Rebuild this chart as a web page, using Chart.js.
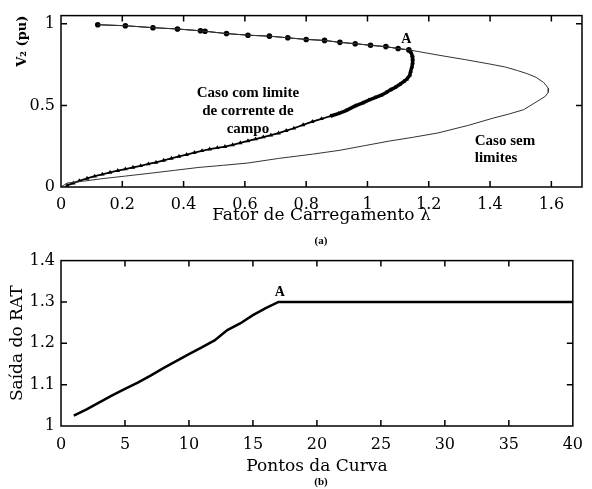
<!DOCTYPE html>
<html>
<head>
<meta charset="utf-8">
<script src="https://cdn.jsdelivr.net/npm/chart.js@4"></script>
<style>
  body { margin: 0; background: #fff; }
  #wrap { position: relative; width: 592px; height: 489px; }
  #graphA { position: absolute; left: 0; top: 0; }
  #graphB { position: absolute; left: 0; top: 245px; }
</style>
</head>
<body>
<div id="wrap">
  <canvas id="graphA" width="592" height="248"></canvas>
  <canvas id="graphB" width="592" height="244"></canvas>
</div>
<script>
// (a) curva PV - caso sem limites (ramo superior e inferior)
const semLimX = [0.12, 0.21, 0.30, 0.38, 0.46, 0.54, 0.61, 0.68, 0.74, 0.80, 0.86, 0.91, 0.96, 1.01, 1.06, 1.10, 1.135,
  1.24, 1.32, 1.40, 1.45, 1.49, 1.52, 1.55, 1.575, 1.59, 1.59, 1.58, 1.55, 1.51, 1.46, 1.41, 1.33, 1.23, 1.15, 1.07,
  0.99, 0.91, 0.82, 0.71, 0.61, 0.53, 0.45, 0.37, 0.29, 0.21, 0.13, 0.07, 0.02, 0.0];
const semLimY = [0.994, 0.988, 0.976, 0.968, 0.956, 0.94, 0.93, 0.924, 0.914, 0.904, 0.898, 0.886, 0.878, 0.868, 0.86, 0.848, 0.84,
  0.805, 0.78, 0.753, 0.735, 0.713, 0.695, 0.672, 0.64, 0.605, 0.58, 0.555, 0.52, 0.474, 0.446, 0.422, 0.378, 0.331, 0.305, 0.281,
  0.253, 0.225, 0.201, 0.175, 0.147, 0.133, 0.12, 0.102, 0.084, 0.067, 0.05, 0.035, 0.024, 0.0];

// caso com limite de corrente de campo: ramo superior (ate A)
const comSupX = [0.12, 0.21, 0.30, 0.38, 0.455, 0.47, 0.54, 0.61, 0.68, 0.74, 0.80, 0.86, 0.91, 0.96, 1.01, 1.06, 1.10, 1.135];
const comSupY = [0.994, 0.988, 0.976, 0.968, 0.957, 0.954, 0.94, 0.93, 0.924, 0.914, 0.904, 0.898, 0.886, 0.878, 0.868, 0.86, 0.848, 0.84];
// ramo inferior (depois de A)
const comInfX = [1.142, 1.146, 1.148, 1.147, 1.145, 1.141, 1.138, 1.128, 1.118, 1.105, 1.09, 1.075, 1.06, 1.045, 1.025, 1.005,
  0.985, 0.96, 0.93, 0.905, 0.88, 0.85, 0.82, 0.79, 0.76, 0.735, 0.71, 0.685, 0.66, 0.635, 0.61, 0.585, 0.56, 0.535, 0.51,
  0.485, 0.46, 0.435, 0.41, 0.385, 0.36, 0.335, 0.31, 0.285, 0.26, 0.235, 0.21, 0.185, 0.16, 0.135, 0.11, 0.085, 0.06, 0.04, 0.02];
const comInfY = [0.825, 0.805, 0.783, 0.76, 0.735, 0.71, 0.685, 0.66, 0.645, 0.628, 0.61, 0.595, 0.578, 0.562, 0.548, 0.533,
  0.515, 0.497, 0.468, 0.45, 0.435, 0.418, 0.4, 0.38, 0.36, 0.345, 0.33, 0.318, 0.306, 0.294, 0.282, 0.27, 0.258, 0.247, 0.24,
  0.232, 0.222, 0.21, 0.198, 0.187, 0.175, 0.163, 0.151, 0.141, 0.13, 0.12, 0.11, 0.1, 0.089, 0.078, 0.066, 0.053, 0.038, 0.024, 0.01];

const ticksXA = [0, 0.2, 0.4, 0.6, 0.8, 1, 1.2, 1.4, 1.6];
const ticksYA = [0, 0.5, 1];

// (b) saida do RAT x pontos da curva
const pontos = [1, 2, 3, 4, 5, 6, 7, 8, 9, 10, 11, 12, 13, 14, 15, 16, 17, 18, 19, 20,
  21, 22, 23, 24, 25, 26, 27, 28, 29, 30, 31, 32, 33, 34, 35, 36, 37, 38, 39, 40];
const saidaRAT = [1.025, 1.04, 1.057, 1.074, 1.09, 1.105, 1.122, 1.14, 1.157, 1.174, 1.19, 1.207, 1.232, 1.248, 1.268, 1.285, 1.30,
  1.30, 1.30, 1.30, 1.30, 1.30, 1.30, 1.30, 1.30, 1.30, 1.30, 1.30, 1.30, 1.30, 1.30, 1.30, 1.30, 1.30, 1.30, 1.30, 1.30, 1.30, 1.30, 1.30];
const ticksXB = [0, 5, 10, 15, 20, 25, 30, 35, 40];
const ticksYB = [1, 1.1, 1.2, 1.3, 1.4];

Chart.defaults.font.family = 'DejaVu Serif';
Chart.defaults.color = '#000';
Chart.defaults.animation = false;

function pts(xs, ys) {
    const out = [];
    for (let i = 0; i < xs.length; i++) {
        out.push({x: xs[i], y: ys[i]});
    }
    return out;
}

function fmt(v) {
    return String(+Number(v).toFixed(2));
}

// moldura com marcas de escala para dentro
const moldura = {
    id: 'moldura',
    afterDatasetsDraw(chart) {
        const ctx = chart.ctx;
        const a = chart.chartArea;
        const sx = chart.scales.x, sy = chart.scales.y;
        ctx.save();
        ctx.strokeStyle = '#000';
        ctx.lineWidth = 1.5;
        ctx.strokeRect(a.left, a.top, a.right - a.left, a.bottom - a.top);
        ctx.beginPath();
        sx.ticks.forEach(t => {
            const p = sx.getPixelForValue(t.value);
            if (p <= a.left + 1 || p >= a.right - 1) return;
            ctx.moveTo(p, a.bottom); ctx.lineTo(p, a.bottom - 6);
            ctx.moveTo(p, a.top); ctx.lineTo(p, a.top + 6);
        });
        sy.ticks.forEach(t => {
            const p = sy.getPixelForValue(t.value);
            if (p <= a.top + 1 || p >= a.bottom - 1) return;
            ctx.moveTo(a.left, p); ctx.lineTo(a.left + 6, p);
            ctx.moveTo(a.right, p); ctx.lineTo(a.right - 6, p);
        });
        ctx.stroke();
        ctx.restore();
    }
};

// textos dentro do grafico, em coordenadas dos dados
const textos = {
    id: 'textos',
    afterDraw(chart, args, opts) {
        const ctx = chart.ctx;
        const sx = chart.scales.x, sy = chart.scales.y;
        ctx.save();
        ctx.fillStyle = '#000';
        ctx.textBaseline = 'middle';
        (opts.items || []).forEach(it => {
            ctx.font = it.font;
            ctx.textAlign = it.align || 'center';
            const px = it.px !== undefined ? it.px : sx.getPixelForValue(it.x);
            const py = it.py !== undefined ? it.py : sy.getPixelForValue(it.y);
            it.text.forEach((line, k) => ctx.fillText(line, px, py + k * it.lh));
        });
        ctx.restore();
    }
};

function mkGraphA() {
    const ctx = document.getElementById('graphA');
    const nSup = comSupX.length;
    const styles = [];
    const radii = [];
    for (let i = 0; i < nSup; i++) { styles.push('circle'); radii.push(2.8); }
    for (let i = 0; i < comInfX.length; i++) { styles.push('triangle'); radii.push(2.6); }

    const data = {
        datasets: [
            {
                label: 'Caso sem limites',
                data: pts(semLimX, semLimY),
                showLine: true,
                borderColor: '#333',
                borderWidth: 1,
                pointRadius: 0
            },
            {
                label: 'Caso com limite de corrente de campo',
                data: pts(comSupX.concat(comInfX), comSupY.concat(comInfY)),
                showLine: true,
                borderColor: '#000',
                backgroundColor: '#000',
                borderWidth: 1,
                segment: {
                    borderWidth: c => {
                        if (c.p0DataIndex < nSup - 1) return 1;
                        if (c.p0DataIndex < nSup + 20) return 3.5;
                        return 1.8;
                    }
                },
                pointStyle: styles,
                pointRadius: radii,
                pointBorderWidth: 0
            }
        ]
    };
    const options = {
        responsive: false,
        layout: {padding: {top: 13, right: 10, left: 0, bottom: 0}},
        plugins: {
            legend: {display: false},
            tooltip: {enabled: false},
            textos: {
                items: [
                    {text: ['A'], x: 1.127, y: 0.905, font: 'bold 14px "Liberation Serif"', lh: 0},
                    {text: ['Caso com limite', 'de corrente de', 'campo'], x: 0.61, y: 0.577, font: 'bold 15px "Liberation Serif"', lh: 18},
                    {text: ['Caso sem', 'limites'], x: 1.35, y: 0.281, align: 'left', font: 'bold 15px "Liberation Serif"', lh: 17},
                    {text: ['(a)'], px: 321, py: 241, font: 'bold 11px "Liberation Serif"', lh: 0}
                ]
            }
        },
        scales: {
            x: {
                type: 'linear', min: 0, max: 1.7,
                afterBuildTicks: s => { s.ticks = ticksXA.map(v => ({value: v})); },
                afterFit: s => { s.height = 61; },
                grid: {display: false, drawTicks: false},
                border: {display: false},
                ticks: {font: {size: 16}, padding: 8, maxRotation: 0, callback: fmt},
                title: {display: true, text: 'Fator de Carregamento λ', font: {size: 17}, padding: {top: 0, bottom: 22}}
            },
            y: {
                type: 'linear', min: 0, max: 1.05,
                afterBuildTicks: s => { s.ticks = ticksYA.map(v => ({value: v})); },
                afterFit: s => { s.width = 61; },
                grid: {display: false, drawTicks: false},
                border: {display: false},
                ticks: {font: {size: 16}, padding: 6, callback: fmt},
                title: {display: true, text: 'V₂ (pu)', align: 'end', font: {size: 13, weight: 'bold'}, padding: {top: 15, bottom: 0}}
            }
        }
    };

    new Chart(ctx, {
        type: 'scatter',
        data: data,
        options: options,
        plugins: [moldura, textos]
    });
}

function mkGraphB() {
    const ctx = document.getElementById('graphB');
    const data = {
        datasets: [
            {
                label: 'Saída do RAT',
                data: pts(pontos, saidaRAT),
                showLine: true,
                borderColor: '#000',
                borderWidth: 2.5,
                pointRadius: 0
            }
        ]
    };
    const options = {
        responsive: false,
        layout: {padding: {top: 9, right: 10, left: 0, bottom: 0}},
        plugins: {
            legend: {display: false},
            tooltip: {enabled: false},
            textos: {
                items: [
                    {text: ['A'], x: 17.1, y: 1.322, font: 'bold 14px "Liberation Serif"', lh: 0},
                    {text: ['(b)'], px: 321, py: 237, font: 'bold 11px "Liberation Serif"', lh: 0}
                ]
            }
        },
        scales: {
            x: {
                type: 'linear', min: 0, max: 40,
                afterBuildTicks: s => { s.ticks = ticksXB.map(v => ({value: v})); },
                afterFit: s => { s.height = 63; },
                grid: {display: false, drawTicks: false},
                border: {display: false},
                ticks: {font: {size: 16}, padding: 9, maxRotation: 0, callback: fmt},
                title: {display: true, text: 'Pontos da Curva', font: {size: 17}, padding: {top: 0, bottom: 12}}
            },
            y: {
                type: 'linear', min: 1, max: 1.4,
                afterBuildTicks: s => { s.ticks = ticksYB.map(v => ({value: v})); },
                afterFit: s => { s.width = 61; },
                grid: {display: false, drawTicks: false},
                border: {display: false},
                ticks: {font: {size: 16}, padding: 6, callback: fmt},
                title: {display: true, text: 'Saída do RAT', font: {size: 17}, padding: {top: 7, bottom: 0}}
            }
        }
    };

    new Chart(ctx, {
        type: 'scatter',
        data: data,
        options: options,
        plugins: [moldura, textos]
    });
}

mkGraphA();
mkGraphB();
</script>
</body>
</html>
